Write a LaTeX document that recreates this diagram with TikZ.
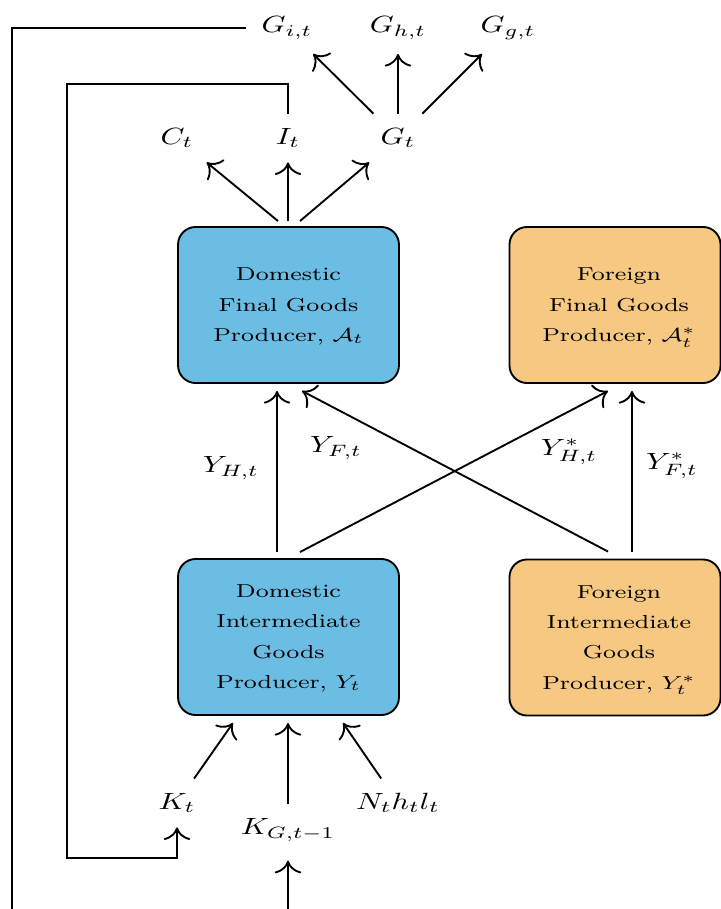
\documentclass[tikz,border=0pt]{standalone}
\usepackage{graphicx}
\usetikzlibrary{calc,arrows.meta}
\definecolor{domblue}{RGB}{108,189,227}
\definecolor{forange}{RGB}{246,200,130}
\newcommand{\sx}[1]{\scalebox{1.3}[1]{#1}}
\newcommand{\boxtext}[1]{\sx{\begin{tabular}{@{}c@{}}#1\end{tabular}}}
\begin{document}
\begin{tikzpicture}[x=0.4255pt, y=-0.4255pt,
  lbl/.style={inner xsep=6.5pt, inner ysep=6pt},
  prodbox/.style={draw, thick, rounded corners=7.5pt, minimum height=66.4pt, inner sep=0pt, font=\fontsize{8}{12.9}\selectfont},
  dombox/.style={prodbox, fill=domblue, minimum width=94pt},
  forbox/.style={prodbox, fill=forange, minimum width=89.8pt},
  arr/.style={-{To[scale=1.6]}, thick}]
\path[use as bounding box, clip] (0,0) rectangle (721,909);

% boxes
\node[dombox] (dfin) at (288.5,305) {\boxtext{Domestic\\Final Goods\\Producer, $\mathcal{A}_t$}};
\node[forbox] (ffin) at (615,305) {\hspace*{3.4pt}\boxtext{Foreign\\Final Goods\\Producer, $\mathcal{A}_t^*$}};
\node[dombox] (dint) at (288.5,637) {\boxtext{Domestic\\Intermediate\\Goods\\Producer, $Y_t$}};
\node[forbox] (fint) at (615,637.5) {\hspace*{3.4pt}\boxtext{Foreign\\Intermediate\\Goods\\Producer, $Y_t^*$}};

% labels
\node[lbl] (Git) at (287,28) {\sx{$G_{i,t}$}};
\node[lbl] (Ght) at (398,28) {\sx{$G_{h,t}$}};
\node[lbl] (Ggt) at (508,28) {\sx{$G_{g,t}$}};
\node[lbl] (Ct) at (177,138) {\sx{$C_t$}};
\node[lbl] (It) at (288,138) {\sx{$I_t$}};
\node[lbl] (Gt) at (398,138) {\sx{$G_t$}};
\node[lbl] (Kt) at (177,803) {\sx{$K_t$}};
\node[lbl] (Nt) at (398,803) {\sx{$N_t h_t l_t$}};
\node[lbl] (KG) at (288,830) {\sx{$K_{G,t-1}$}};
\node (lYH) at (231,468) {\sx{$Y_{H,t}$}};
\node (lYF) at (336,448) {\sx{$Y_{F,t}$}};
\node (lYHs) at (569,452) {\sx{$Y^*_{H,t}$}};
\node (lYFs) at (672,466) {\sx{$Y^*_{F,t}$}};

\coordinate (ltop) at (67,84);
\coordinate (lbot) at (67,858);
\coordinate (bl) at (12,940);

% outputs of domestic final goods
\draw[arr] ($(dfin.north)+(-10.5,-5)$) -- (Ct);
\draw[arr] ($(dfin.north)+(-0.5,-5)$) -- (It);
\draw[arr] ($(dfin.north)+(11.5,-5)$) -- (Gt);
\draw[arr] (Gt) -- (Git);
\draw[arr] (Gt) -- (Ght);
\draw[arr] (Gt) -- (Ggt);

% trade flows
\draw[arr] ($(dint.north)+(-11.5,-6)$) -- ($(dfin.south)+(-11.5,7)$);
\draw[arr] ($(dint.north)+(11.5,-6)$) -- ($(ffin.south)+(-7,7)$);
\draw[arr] ($(fint.north)+(-7,-7)$) -- ($(dfin.south)+(13.5,7)$);
\draw[arr] ($(fint.north)+(17,-7)$) -- ($(ffin.south)+(17,7)$);

% inputs
\draw[arr] (Kt) -- ($(dint.south)+(-55.5,7)$);
\draw[arr] (KG) -- ($(dint.south)+(-0.5,7)$);
\draw[arr] (Nt) -- ($(dint.south)+(54.5,7)$);

% loops
\draw[arr] (It.north) |- (ltop) -- (lbot) -| (Kt.south);
\draw[arr, shorten >=2pt] (Git.west) -| (bl) -| (KG.south);
\end{tikzpicture}
\end{document}
